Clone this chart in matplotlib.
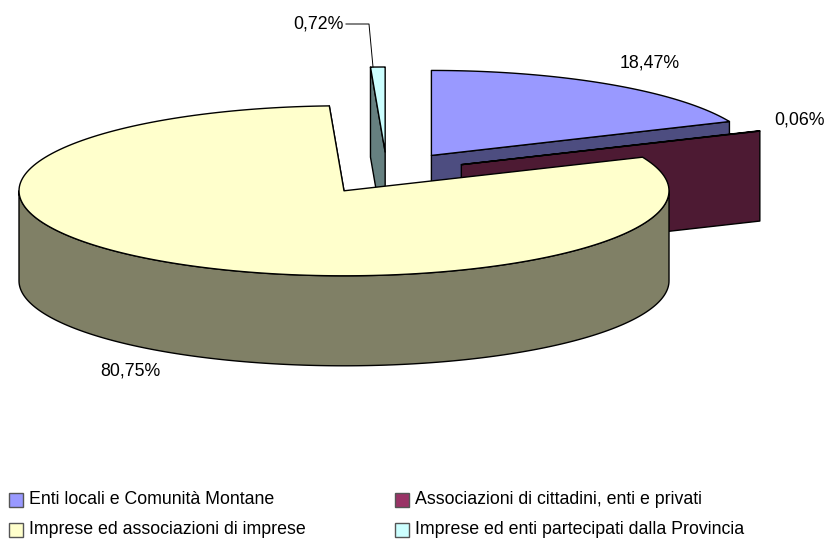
import numpy as np
import matplotlib
matplotlib.use('Agg')
import matplotlib.pyplot as plt
from matplotlib.patches import Polygon, Rectangle

plt.rcParams['font.family'] = ['Liberation Sans', 'DejaVu Sans']

# Data
categories = ['Enti locali e Comunità Montane',
              'Associazioni di cittadini, enti e privati',
              'Imprese ed associazioni di imprese',
              'Imprese ed enti partecipati dalla Provincia']
values = [18.47, 0.06, 80.75, 0.72]
top_colors = ['#9999ff', '#993366', '#ffffcc', '#ccffff']
side_colors = ['#4d4d80', '#4d1a33', '#808066', '#668080']

# Pie geometry (pixels)
CX, CY = 387, 173
RX, RY = 325, 85
DEPTH = 90
EXPLODE_X, EXPLODE_Y = 81, 21

fig = plt.figure(figsize=(8.28, 5.4), dpi=100)
ax = fig.add_axes([0, 0, 1, 1])
ax.set_xlim(0, 828)
ax.set_ylim(540, 0)
ax.axis('off')


def arc(cx, cy, a0, a1):
    t = np.radians(np.linspace(a0, a1, 200))
    return np.column_stack([cx + RX * np.sin(t), cy - RY * np.cos(t)])


def poly(pts, color, z):
    ax.add_patch(Polygon(pts, closed=True, facecolor=color, edgecolor='black',
                         linewidth=1.0, joinstyle='round', zorder=z))


# Angles clockwise from 12 o'clock
edges = np.concatenate([[0], np.cumsum(values)]) / sum(values) * 360
slices = []
for i in range(len(values)):
    a0, a1 = edges[i], edges[i + 1]
    mid = np.radians((a0 + a1) / 2)
    cx = CX + EXPLODE_X * np.sin(mid)
    cy = CY - EXPLODE_Y * np.cos(mid)
    slices.append((a0, a1, cx, cy))

# Back to front: cyan, blue, maroon, yellow
order = [3, 0, 1, 2]
z = 1
for i in order:
    a0, a1, cx, cy = slices[i]
    apex = np.array([cx, cy])
    down = np.array([0, DEPTH])

    # cut face that faces the viewer
    cut = a0 if i == 3 else a1
    outer = arc(cx, cy, cut, cut)[0]
    poly([apex, outer, outer + down, apex + down], side_colors[i], z)
    z += 1

    # outer rim, front half only
    lo, hi = max(a0, 90), min(a1, 270)
    if hi > lo:
        rim = arc(cx, cy, lo, hi)
        poly(np.vstack([rim, (rim + down)[::-1]]), side_colors[i], z)
        z += 1

    # top face
    poly(np.vstack([[apex], arc(cx, cy, a0, a1)]), top_colors[i], z)
    z += 1

# Data labels
label_pos = [(650, 63), (800, 120), (130, 371), (318, 24)]
for v, (x, y) in zip(values, label_pos):
    ax.text(x, y, f'{v:.2f}%'.replace('.', ','), ha='center', va='center',
            fontsize=12.8, color='black', zorder=20)

# Leader line of the small slice
ax.plot([346, 369, 373], [24, 24, 67], color='black', lw=0.7, zorder=20)

# Legend
legend_pos = [(9, 500), (395, 500), (9, 530), (395, 530)]
for name, color, (x, y) in zip(categories, top_colors, legend_pos):
    ax.add_patch(Rectangle((x, y - 7), 14, 14, facecolor=color,
                           edgecolor='#555555', linewidth=1.0, zorder=20))
    ax.text(x + 20, y, name, ha='left', va='center', fontsize=12.8,
            color='black', zorder=20)

fig.savefig('out.png', dpi=100)
